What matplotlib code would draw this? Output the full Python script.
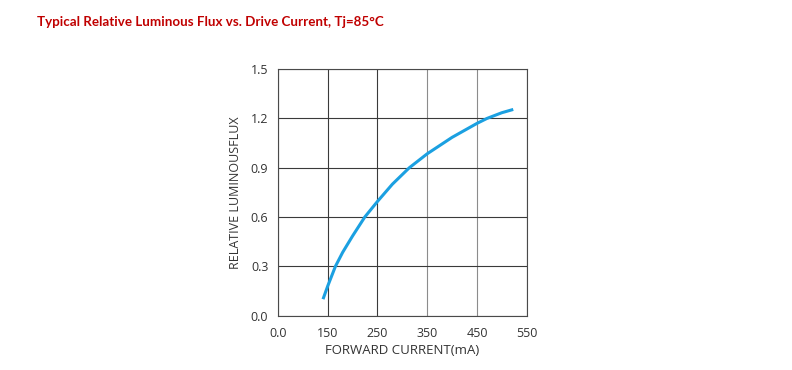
import numpy as np
import matplotlib.pyplot as plt

# forward current (mA) vs relative luminous flux
current = [140.5, 150, 165.5, 180, 200, 224.5, 250, 280, 314, 350, 400, 450, 470, 500, 523]
flux = [0.10, 0.18, 0.30, 0.385, 0.485, 0.60, 0.695, 0.80, 0.90, 0.985, 1.085, 1.17, 1.20, 1.235, 1.255]

xticks = [50, 150, 250, 350, 450, 550]
xtick_labels = ['0.0', '150', '250', '350', '450', '550']
yticks = [0.0, 0.3, 0.6, 0.9, 1.2, 1.5]

plt.rcParams['font.family'] = ['Open Sans', 'DejaVu Sans']

fig = plt.figure(figsize=(7.92, 3.70), dpi=100)
ax = fig.add_axes([0.351, 0.147, 0.314, 0.666])

ax.plot(current, flux, color='#1BA0E1', lw=2.2, solid_capstyle='butt',
        solid_joinstyle='round')

ax.set_xlim(50, 550)
ax.set_ylim(0, 1.5)
ax.set_xticks(xticks)
ax.set_xticklabels(xtick_labels)
ax.set_yticks(yticks)
ax.set_yticklabels([f'{v:.1f}' for v in yticks])
ax.tick_params(length=0, labelsize=9, colors='#333333')
ax.tick_params(axis='x', pad=8)
ax.tick_params(axis='y', pad=7)
ax.grid(True, color='#3a3a3a', lw=0.8)
# the two right-hand vertical grid lines look lighter in the original
for ln in ax.get_xgridlines()[3:5]:
    ln.set_color('#8c8c8c')
for s in ax.spines.values():
    s.set_color('#4a4a4a')
    s.set_linewidth(0.8)

ax.set_xlabel('FORWARD CURRENT(mA)', fontsize=9.5, color='#333333', labelpad=3)
ax.set_ylabel('RELATIVE LUMINOUSFLUX', fontsize=9, color='#333333', labelpad=6)

fig.text(0.047, 0.94, 'Typical Relative Luminous Flux vs. Drive Current, Tj=85°C',
         color='#C00000', fontsize=9.6, fontweight='bold', family='Lato',
         va='center', ha='left')

fig.savefig('out.png', dpi=100)
